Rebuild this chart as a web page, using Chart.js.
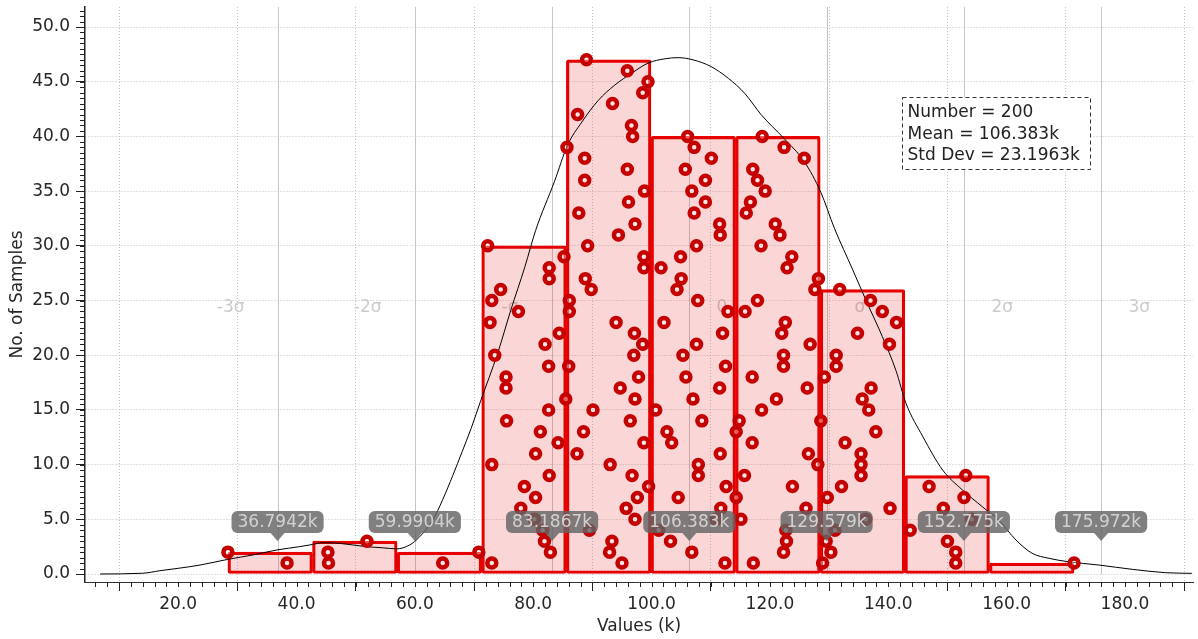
<!DOCTYPE html>
<html>
<head>
<meta charset="utf-8">
<script src="https://cdn.jsdelivr.net/npm/chart.js@4.4.0/dist/chart.umd.min.js"></script>
<style>
  html, body { margin: 0; padding: 0; background: #fff; }
  #wrap { width: 1198px; height: 639px; }
</style>
</head>
<body>
<div id="wrap"><canvas id="histChart" width="1198" height="639"></canvas></div>
<script>
// histogram bins
const binEdges = [28.4, 42.7, 57.0, 71.3, 85.6, 99.9, 114.2, 128.5, 142.8, 157.1, 171.4];
const binCounts = [2, 3, 2, 30, 47, 40, 40, 26, 9, 1];

// sample values (k) of each bin, from the lowest stacked marker upward
const bin1 = [38.4, 28.4];
const bin2 = [45.4, 45.3, 51.9];
const bin3 = [64.7, 70.8];
const bin4 = [73.0, 82.9, 81.9, 81.6, 80.2, 77.9, 80.4, 78.5, 82.7, 73.0,
              80.4, 84.2, 81.2, 75.5, 82.6, 85.5, 75.4, 75.4, 82.6, 73.5,
              82.0, 84.4, 72.7, 77.5, 73.0, 74.5, 82.7, 82.7, 85.2, 72.3];
const bin5 = [95.0, 92.9, 93.3, 89.5, 97.2, 95.7, 97.6, 99.5, 96.7, 93.0,
              87.4, 98.7, 88.5, 96.4, 90.1, 97.2, 94.7, 97.8, 86.0, 97.0,
              98.5, 97.1, 94.0, 86.1, 86.1, 89.8, 88.8, 98.7, 98.7, 89.2,
              94.4, 97.2, 87.7, 96.1, 98.8, 88.7, 95.9, 88.7, 85.7, 96.8,
              96.6, 87.5, 93.4, 98.5, 99.4, 95.9, 89.0];
const bin6 = [112.4, 106.8, 103.2, 101.2, 110.9, 111.7, 104.5, 112.6, 107.9, 107.9,
              111.6, 103.4, 102.6, 108.5, 100.7, 107.0, 111.5, 105.8, 112.5, 105.3,
              107.6, 112.0, 102.1, 112.9, 107.8, 104.3, 105.0, 101.6, 104.9, 107.6,
              111.6, 111.5, 107.2, 109.1, 106.8, 109.1, 105.7, 110.1, 107.2, 106.1];
const bin7 = [117.2, 122.3, 122.8, 122.7, 115.1, 126.1, 114.3, 123.8, 115.7, 128.1,
              126.5, 117.0, 114.3, 114.8, 118.6, 121.1, 126.3, 117.0, 122.3, 122.3,
              126.8, 122.0, 122.6, 115.8, 117.9, 127.6, 128.2, 122.9, 123.7, 118.5,
              121.7, 120.9, 116.0, 116.7, 119.2, 117.9, 117.1, 125.8, 122.4, 118.7];
const bin8 = [128.9, 130.3, 129.5, 131.0, 136.2, 140.3, 129.7, 132.1, 135.4, 135.4,
              135.4, 132.7, 137.9, 128.6, 136.7, 135.6, 137.1, 129.2, 131.2, 131.2,
              140.2, 134.8, 141.4, 139.0, 137.0, 131.8];
const bin9 = [151.4, 151.4, 150.0, 143.7, 154.1, 149.3, 152.8, 146.9, 153.1];
const bin10 = [171.4];
const sampleBins = [bin1, bin2, bin3, bin4, bin5, bin6, bin7, bin8, bin9, bin10];

// fitted curve
const curveX = [6.8, 14.0, 16.9, 20.0, 23.7, 28.4, 32.6, 36.7, 40.5, 42.7,
                44.4, 47.3, 51.8, 54.5, 56.9, 59.1, 60.8, 63.0, 64.7, 66.4,
                68.0, 69.5, 71.1, 74.0, 76.2, 78.6, 80.4, 83.6, 85.8, 88.2,
                91.0, 93.8, 96.7, 99.4, 102.3, 104.5, 107.0, 110.0, 113.0, 115.8,
                118.5, 122.4, 125.8, 128.6, 130.9, 134.0, 136.5, 139.0, 141.3, 143.0,
                145.8, 149.2, 152.5, 155.9, 158.7, 161.6, 164.3, 167.2, 170.5, 175.6,
                181.2, 186.9, 191.3];
const curveY = [0.0, 0.07, 0.3, 0.52, 0.82, 1.34, 1.74, 2.2, 2.5, 2.7,
                2.86, 2.8, 2.5, 2.4, 2.3, 2.65, 3.4, 4.9, 6.8, 9.0,
                11.2, 13.3, 15.8, 20.2, 24.1, 28.1, 31.4, 35.9, 39.2, 41.3,
                43.3, 44.7, 45.8, 46.7, 47.1, 47.2, 47.0, 46.4, 45.3, 43.9,
                42.0, 39.8, 37.7, 34.9, 31.6, 27.8, 24.7, 21.7, 18.6, 15.6,
                12.6, 9.5, 7.7, 6.15, 4.9, 3.1, 1.9, 1.43, 1.12, 0.82,
                0.43, 0.12, 0.06];

// sigma markers
const sigmaValues = [36.7942, 59.9904, 83.1867, 106.383, 129.579, 152.775, 175.972];
const sigmaNames = ['-3σ', '-2σ', '-σ', '0', 'σ', '2σ', '3σ'];
const sigmaTags = ['36.7942k', '59.9904k', '83.1867k', '106.383k', '129.579k', '152.775k', '175.972k'];
const statLines = ['Number = 200', 'Mean = 106.383k', 'Std Dev = 23.1963k'];

const FONT = '"DejaVu Sans", sans-serif';
Chart.defaults.font.family = FONT;
Chart.defaults.font.size = 17;
Chart.defaults.color = '#262626';

const binCenters = binCounts.map((c, i) => (binEdges[i] + binEdges[i + 1]) / 2);
const histData = binCounts.map((c, i) => ({x: binCenters[i], y: c}));
const samplePoints = [];
sampleBins.forEach(list => list.forEach((v, i) => samplePoints.push({x: v, y: i + 1})));
const curveData = curveX.map((v, i) => ({x: v, y: curveY[i]}));

const sigmaPlugin = {
    id: 'sigmaLines',
    beforeDatasetsDraw(chart) {
        const {ctx, chartArea, scales: {x, y}} = chart;
        const yZero = y.getPixelForValue(0);
        ctx.save();
        ctx.lineWidth = 1;
        ctx.font = '17px ' + FONT;
        ctx.textBaseline = 'middle';
        sigmaValues.forEach((v, i) => {
            const px = Math.round(x.getPixelForValue(v)) + 0.5;
            ctx.strokeStyle = '#c6c6c6';
            ctx.beginPath();
            ctx.moveTo(px, chartArea.top);
            ctx.lineTo(px, yZero);
            ctx.stroke();
            const neg = sigmaNames[i].charAt(0) === '-';
            ctx.fillStyle = '#cbcbcb';
            ctx.textAlign = neg ? 'right' : 'left';
            ctx.fillText(sigmaNames[i], neg ? px - 34 : px + 27, y.getPixelForValue(24.4));
        });
        ctx.restore();
    }
};

const overlayPlugin = {
    id: 'overlay',
    afterDraw(chart) {
        const {ctx, chartArea, scales: {x, y}} = chart;
        const yZero = y.getPixelForValue(0);
        ctx.save();

        // minor ticks
        ctx.strokeStyle = '#222';
        ctx.lineWidth = 1;
        ctx.beginPath();
        for (let v = 0; v <= y.max; v += 0.5) {
            const py = Math.round(y.getPixelForValue(v)) + 0.5;
            ctx.moveTo(chartArea.left - 5, py);
            ctx.lineTo(chartArea.left, py);
        }
        for (let v = 6; v <= x.max; v += 2) {
            const px = Math.round(x.getPixelForValue(v)) + 0.5;
            ctx.moveTo(px, chartArea.bottom);
            ctx.lineTo(px, chartArea.bottom + 5);
        }
        ctx.stroke();

        // value callouts
        ctx.font = '17px ' + FONT;
        ctx.textAlign = 'center';
        ctx.textBaseline = 'middle';
        sigmaValues.forEach((v, i) => {
            const px = x.getPixelForValue(v);
            const tip = yZero - 33;
            const h = 22;
            const w = ctx.measureText(sigmaTags[i]).width + 12;
            const top = tip - 8 - h;
            ctx.fillStyle = 'rgba(100,100,100,0.82)';
            ctx.beginPath();
            ctx.roundRect(px - w / 2, top, w, h, 6);
            ctx.fill();
            ctx.beginPath();
            ctx.moveTo(px - 7, top + h);
            ctx.lineTo(px, tip);
            ctx.lineTo(px + 7, top + h);
            ctx.closePath();
            ctx.fill();
            ctx.fillStyle = 'rgba(215,215,215,0.95)';
            ctx.fillText(sigmaTags[i], px, top + h / 2 + 1);
        });

        // statistics box
        const bx = chartArea.right - 290.5, by = chartArea.top + 90.5, bw = 188, bh = 72;
        ctx.fillStyle = '#fff';
        ctx.fillRect(bx, by, bw, bh);
        ctx.strokeStyle = '#333';
        ctx.setLineDash([4, 3]);
        ctx.strokeRect(bx, by, bw, bh);
        ctx.setLineDash([]);
        ctx.fillStyle = '#222';
        ctx.textAlign = 'left';
        statLines.forEach((t, i) => ctx.fillText(t, bx + 5, by + 15 + i * 21.7));
        ctx.restore();
    }
};

new Chart(document.getElementById('histChart'), {
    type: 'bar',
    data: {
        datasets: [
            {
                type: 'scatter',
                data: samplePoints,
                pointRadius: 4.5,
                pointBorderWidth: 4.5,
                pointBorderColor: '#c40000',
                pointBackgroundColor: 'rgba(255,255,255,0.35)',
                order: 1,
            },
            {
                type: 'line',
                data: curveData,
                borderColor: '#000',
                borderWidth: 1,
                pointRadius: 0,
                cubicInterpolationMode: 'monotone',
                fill: false,
                order: 2,
            },
            {
                type: 'bar',
                data: histData,
                backgroundColor: 'rgba(225,0,0,0.16)',
                borderColor: '#e60000',
                borderWidth: 2.5,
                borderSkipped: false,
                borderRadius: 2,
                barPercentage: 1,
                categoryPercentage: 1,
                order: 3,
            },
        ],
    },
    options: {
        responsive: false,
        animation: false,
        devicePixelRatio: 1,
        layout: {autoPadding: false, padding: {top: 7, right: 5, left: 0, bottom: 0}},
        plugins: {legend: {display: false}, tooltip: {enabled: false}},
        scales: {
            x: {
                type: 'linear',
                offset: false,
                min: 4.25,
                max: 191.5,
                afterFit(scale) {
                    scale.height = 57;
                    scale.paddingLeft = 0;
                    scale.paddingRight = 0;
                },
                ticks: {
                    stepSize: 20,
                    includeBounds: false,
                    maxRotation: 0,
                    padding: 3,
                    color: '#262626',
                    callback: v => v.toFixed(1),
                },
                grid: {color: '#c4c4c4', tickColor: '#222', tickLength: 9},
                border: {color: '#333', width: 1, dash: [1, 2]},
                title: {display: true, text: 'Values (k)', color: '#262626', padding: {top: 0, bottom: 2}},
            },
            y: {
                min: -0.73,
                max: 51.83,
                afterFit(scale) {
                    scale.width = 85;
                    scale.paddingTop = 0;
                    scale.paddingBottom = 0;
                },
                ticks: {
                    stepSize: 5,
                    includeBounds: false,
                    padding: 6,
                    color: '#262626',
                    callback: v => v.toFixed(1),
                },
                grid: {color: '#c4c4c4', tickColor: '#222', tickLength: 9},
                border: {color: '#222', width: 1.5, dash: [1, 2]},
                title: {display: true, text: 'No. of Samples', color: '#262626', padding: {top: 7, bottom: 0}},
            },
        },
    },
    plugins: [sigmaPlugin, overlayPlugin],
});
</script>
</body>
</html>
